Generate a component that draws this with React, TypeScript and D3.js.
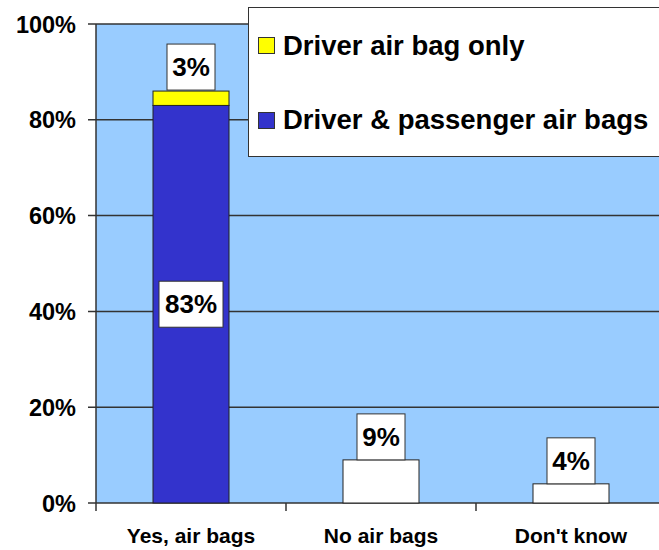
import React from "react";
import * as d3 from "d3";

const categories = ["Yes, air bags", "No air bags", "Don't know"];
const passengerBoth = [83, 0, 0];
const driverOnly = [3, 0, 0];
const otherValues = [0, 9, 4];
const yTicks = [0, 20, 40, 60, 80, 100];
const legendLabels = ["Driver air bag only", "Driver & passenger air bags"];

const W = 659;
const H = 550;
const plot = { left: 96, right: 666, top: 24, bottom: 503 };
const FONT = "'Liberation Sans', Arial, Helvetica, sans-serif";
const BG = "#99CCFF";
const BLUE = "#3333CC";
const YELLOW = "#FFFF00";

function Label({ cx, cy, text }: { cx: number; cy: number; text: string }) {
  const w = text.length * 16 + 16;
  const h = 46;
  return (
    <g>
      <rect x={cx - w / 2} y={cy - h / 2} width={w} height={h} fill="#fff" stroke="#333" strokeWidth={1} />
      <text x={cx} y={cy + 9} textAnchor="middle" fontFamily={FONT} fontWeight="bold" fontSize={26} fill="#000">
        {text}
      </text>
    </g>
  );
}

export default function App() {
  const x = d3.scaleBand<string>().domain(categories).range([plot.left, plot.right]).paddingInner(0.6).paddingOuter(0.3);
  const y = d3.scaleLinear().domain([0, 100]).range([plot.bottom, plot.top]);
  const bw = x.bandwidth();
  const step = x.step();

  return (
    <svg width={W} height={H} style={{ position: "absolute", left: 0, top: 0 }}>
      <rect x={0} y={0} width={W} height={H} fill="#fff" />
      <rect x={plot.left} y={plot.top} width={plot.right - plot.left} height={plot.bottom - plot.top} fill={BG} />
      {yTicks.map((t) => (
        <g key={t}>
          <line x1={plot.left - 8} x2={plot.right} y1={y(t)} y2={y(t)} stroke="#333" strokeWidth={1.5} />
          <text x={76} y={y(t) + 8.5} textAnchor="end" fontFamily={FONT} fontWeight="bold" fontSize={23.5} fill="#000">
            {t}%
          </text>
        </g>
      ))}
      <line x1={plot.left} x2={plot.left} y1={plot.top} y2={plot.bottom + 8} stroke="#333" strokeWidth={1.5} />
      {categories.map((c, i) => (
        <line key={c} x1={plot.left + step * (i + 1)} x2={plot.left + step * (i + 1)} y1={plot.bottom} y2={plot.bottom + 8} stroke="#333" strokeWidth={1.5} />
      ))}
      {categories.map((c, i) => {
        const x0 = x(c)!;
        const els: React.ReactNode[] = [];
        if (passengerBoth[i] > 0) {
          els.push(<rect key="b" x={x0} y={y(passengerBoth[i])} width={bw} height={y(0) - y(passengerBoth[i])} fill={BLUE} stroke="#222" strokeWidth={1} />);
        }
        if (driverOnly[i] > 0) {
          const top = passengerBoth[i] + driverOnly[i];
          els.push(<rect key="y" x={x0} y={y(top)} width={bw} height={y(passengerBoth[i]) - y(top)} fill={YELLOW} stroke="#222" strokeWidth={1} />);
        }
        if (otherValues[i] > 0) {
          els.push(<rect key="o" x={x0} y={y(otherValues[i])} width={bw} height={y(0) - y(otherValues[i])} fill="#fff" stroke="#222" strokeWidth={1} />);
        }
        return <g key={c}>{els}</g>;
      })}
      {categories.map((c, i) => {
        const cx = x(c)! + bw / 2;
        const els: React.ReactNode[] = [];
        if (passengerBoth[i] > 0) {
          els.push(<Label key="b" cx={cx} cy={y(passengerBoth[i] / 2)} text={`${passengerBoth[i]}%`} />);
        }
        if (driverOnly[i] > 0) {
          const top = passengerBoth[i] + driverOnly[i];
          els.push(<Label key="y" cx={cx} cy={y(top) - 24} text={`${driverOnly[i]}%`} />);
        }
        if (otherValues[i] > 0) {
          els.push(<Label key="o" cx={cx} cy={y(otherValues[i]) - 23} text={`${otherValues[i]}%`} />);
        }
        return <g key={c}>{els}</g>;
      })}
      {categories.map((c) => (
        <text key={c} x={x(c)! + bw / 2} y={543} textAnchor="middle" fontFamily={FONT} fontWeight="bold" fontSize={21} fill="#000">
          {c}
        </text>
      ))}
      <g>
        <rect x={248.5} y={7.5} width={420} height={149} fill="#fff" stroke="#333" strokeWidth={1} />
        {legendLabels.map((l, i) => (
          <g key={l}>
            <rect x={258.5} y={37.5 + i * 75} width={16} height={16} fill={i === 0 ? YELLOW : BLUE} stroke="#333" strokeWidth={1} />
            <text x={283} y={55 + i * 74} fontFamily={FONT} fontWeight="bold" fontSize={27.5} fill="#000">
              {l}
            </text>
          </g>
        ))}
      </g>
    </svg>
  );
}
